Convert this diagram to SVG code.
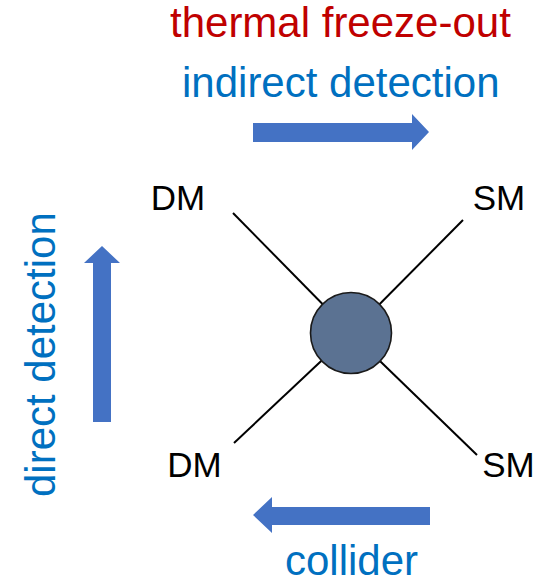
<svg xmlns="http://www.w3.org/2000/svg" width="541" height="583" viewBox="0 0 541 583">
<style>
.t{font-family:"Liberation Sans",Arial,sans-serif;font-size:42px}
.red{fill:#C00000}
.blue{fill:#0070C0}
.lab{font-family:"Liberation Sans",Arial,sans-serif;font-size:35px;fill:#000;text-anchor:middle}
.arr{fill:#4472C4}
.ln{stroke:#000;stroke-width:2;fill:none}
</style>
<rect width="541" height="583" fill="#fff"/>
<g id="title">
<text class="t red" x="170" y="37">thermal freeze-out</text>
</g>
<g id="indirect">
<text class="t blue" x="182" y="97">indirect detection</text>
<polygon class="arr" points="253,123 412,123 412,114 429,132 412,150 412,142 253,142"/>
</g>
<g id="direct">
<text class="t blue" transform="translate(55,497) rotate(-90)" x="0" y="0">direct detection</text>
<polygon class="arr" points="93,422 93,263 84,263 102,246 120,263 111,263 111,422"/>
</g>
<g id="collider">
<polygon class="arr" points="430,507 272,507 272,497 253,515 272,533 272,525 430,525"/>
<text class="t blue" x="285" y="575">collider</text>
</g>
<g id="connectors">
<line class="ln" x1="233" y1="213" x2="351" y2="333"/>
<line class="ln" x1="463" y1="220" x2="351" y2="333"/>
<line class="ln" x1="234" y1="443" x2="351" y2="333"/>
<line class="ln" x1="477" y1="455" x2="351" y2="333"/>
</g>
<g id="vertex">
<circle cx="351" cy="333" r="40.5" fill="#5B7292" stroke="#1a1a1a" stroke-width="1.6"/>
</g>
<g id="dm-top"><text class="lab" x="178" y="210">DM</text></g>
<g id="sm-top"><text class="lab" x="499" y="210">SM</text></g>
<g id="dm-bottom"><text class="lab" x="194.5" y="477">DM</text></g>
<g id="sm-bottom"><text class="lab" x="508.5" y="477">SM</text></g>
</svg>
